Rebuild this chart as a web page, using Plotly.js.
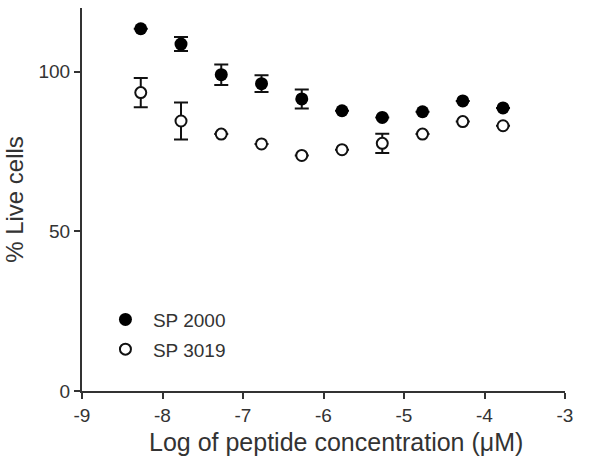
<!DOCTYPE html>
<html>
<head>
<meta charset="utf-8">
<script src="https://cdn.plot.ly/plotly-3.0.1.min.js"></script>
<style>
  html, body { margin: 0; padding: 0; background: #fff; }
  #graph1 { width: 604px; height: 474px; }
</style>
</head>
<body>
<div id="graph1"></div>
<script>
// log concentration (M), half-log dilutions
var logConc = [-8.27, -7.77, -7.27, -6.77, -6.27, -5.77, -5.27, -4.77, -4.27, -3.77];

// % live cells (0 = bar hidden behind the symbol)
var sp2000 = [113.5, 108.7, 99.1, 96.3, 91.5, 87.8, 85.7, 87.5, 90.9, 88.7];
var sp2000Err = [0, 2.2, 3.2, 2.6, 3.0, 0, 0, 0, 0, 0];

var sp3019 = [93.5, 84.6, 80.5, 77.4, 73.8, 75.6, 77.6, 80.5, 84.4, 83.1];
var sp3019Err = [4.6, 5.8, 0, 0, 0, 0, 3.0, 0, 0, 0];

var xTicks = [-9, -8, -7, -6, -5, -4, -3];
var xTickText = ['-9', '-8', '-7', '-6', '-5', '-4', '-3'];
var yTicks = [0, 50, 100];

var ink = '#333';

var trace1 = {
    type: 'scatter',
    mode: 'markers',
    name: 'SP 2000',
    legendgroup: 'a',
    x: logConc,
    y: sp2000,
    error_y: {type: 'data', array: sp2000Err, color: '#111', thickness: 2, width: 7},
    marker: {symbol: 'circle', size: 13, color: '#000', line: {width: 0}}
};

var trace2 = {
    type: 'scatter',
    mode: 'markers',
    name: 'SP 3019',
    legendgroup: 'b',
    x: logConc,
    y: sp3019,
    error_y: {type: 'data', array: sp3019Err, color: '#111', thickness: 2, width: 7},
    marker: {symbol: 'circle', size: 11, color: '#fff', line: {width: 2, color: '#111'}}
};

var layout1 = {
    width: 604,
    height: 474,
    autosize: false,
    paper_bgcolor: '#fff',
    plot_bgcolor: '#fff',
    margin: {l: 82, r: 39, t: 8, b: 83, pad: 0},
    font: {family: 'Liberation Sans, Arial, sans-serif', color: ink, size: 19},
    showlegend: true,
    legend: {
        x: 0.033, y: 0.236, xanchor: 'left', yanchor: 'top',
        bgcolor: 'rgba(0,0,0,0)',
        traceorder: 'grouped',
        tracegroupgap: 2,
        itemwidth: 45,
        font: {size: 19, color: ink}
    },
    xaxis: {
        range: [-9, -3],
        tickmode: 'array',
        tickvals: xTicks,
        ticktext: xTickText,
        ticks: 'outside',
        ticklen: 6,
        tickwidth: 2,
        tickcolor: ink,
        showline: true,
        linecolor: ink,
        linewidth: 2,
        showgrid: false,
        zeroline: false
    },
    yaxis: {
        range: [0, 120],
        tickmode: 'array',
        tickvals: yTicks,
        ticks: 'outside',
        ticklen: 6,
        tickwidth: 2,
        tickcolor: ink,
        showline: true,
        linecolor: ink,
        linewidth: 2,
        showgrid: false,
        zeroline: false,
        title: {text: '% Live cells', font: {size: 24, color: ink}}
    },
    annotations: [{
        text: 'Log of peptide concentration (\u03bcM)',
        xref: 'paper', yref: 'paper',
        x: 0.526, y: -0.133,
        xanchor: 'center', yanchor: 'middle',
        showarrow: false,
        font: {size: 25, color: ink}
    }]
};

Plotly.newPlot('graph1', [trace1, trace2], layout1, {displayModeBar: false, staticPlot: true});
</script>
</body>
</html>
